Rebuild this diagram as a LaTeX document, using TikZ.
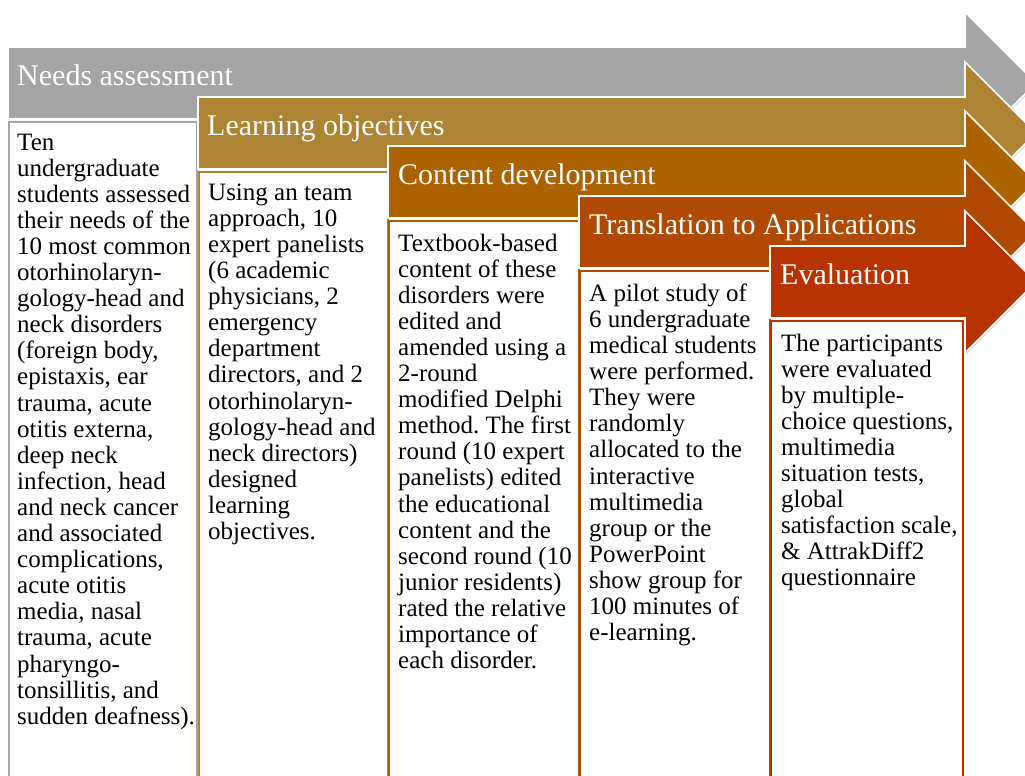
\documentclass[tikz,border=0pt]{standalone}
\usepackage{fontspec}
\setmainfont{Liberation Serif}
\usetikzlibrary{shadows}
\frenchspacing
\definecolor{cgray}{HTML}{A5A5A5}
\definecolor{cgold}{HTML}{AD8334}
\definecolor{corange}{HTML}{AD6200}
\definecolor{crust}{HTML}{B04A02}
\definecolor{cred}{HTML}{B73400}
\newcommand\stagearrow[4]{%
  \fill[#3, draw=white, line width=1.6pt, line join=miter,
        drop shadow={shadow xshift=1.2pt, shadow yshift=-1.2pt, opacity=.35}]
    (#1,#2) -- (965,#2) -- (965,#2-35) -- (1036,#2+36) -- (965,#2+107)
    -- (965,#2+72) -- (#1,#2+72) -- cycle;
  \draw[fill=white, draw=#3, line width=1.5pt] (#1+1,#2+75) rectangle (#4,800);
}
\begin{document}
\begin{tikzpicture}[x=1pt,y=-1pt,
  head/.style={text=white, font=\fontsize{30}{32}\selectfont, anchor=base west, inner sep=0pt},
  body/.style={text=black, font=\fontsize{25}{26.1}\selectfont, anchor=north west, inner sep=0pt, align=left}]
\useasboundingbox[fill=white] (0,0) rectangle (1025,776);
\clip (0,0) rectangle (1025,776);

\stagearrow{8}{47}{cgray}{197}
\node[head] (h1) at (17,85) {Needs assessment};
\node[body] (t1) at (17,133.5) {Ten\\undergraduate\\students assessed\\their needs of the\\10 most common\\otorhinolaryn-\\gology-head and\\neck disorders\\(foreign body,\\epistaxis, ear\\trauma, acute\\otitis externa,\\deep neck\\infection, head\\and neck cancer\\and associated\\complications,\\acute otitis\\media, nasal\\trauma, acute\\pharyngo-\\tonsillitis, and\\sudden deafness).};

\stagearrow{198}{97}{cgold}{388}
\node[head] (h2) at (207,135) {Learning objectives};
\node[body] (t2) at (208,183.5) {Using an team\\approach, 10\\expert panelists\\(6 academic\\physicians, 2\\emergency\\department\\directors, and 2\\otorhinolaryn-\\gology-head and\\neck directors)\\designed\\learning\\objectives.};

\stagearrow{388}{146}{corange}{579}
\node[head] (h3) at (398,184) {Content development};
\node[body] (t3) at (398,233.5) {Textbook-based\\content of these\\disorders were\\edited and\\amended using a\\2-round\\modified Delphi\\method. The first\\round (10 expert\\panelists) edited\\the educational\\content and the\\second round (10\\junior residents)\\rated the relative\\importance of\\each disorder.};

\stagearrow{579}{196}{crust}{770}
\node[head] (h4) at (589,234) {Translation to Applications};
\node[body] (t4) at (589,283.5) {A pilot study of\\6 undergraduate\\medical students\\were performed.\\They were\\randomly\\allocated to the\\interactive\\multimedia\\group or the\\PowerPoint\\show group for\\100 minutes of\\e-learning.};

\stagearrow{770}{246}{cred}{963}
\node[head] (h5) at (780,284) {Evaluation};
\node[body] (t5) at (781,333.5) {The participants\\were evaluated\\by multiple-\\choice questions,\\multimedia\\situation tests,\\global\\satisfaction scale,\\\& AttrakDiff2\\questionnaire};
\end{tikzpicture}
\end{document}
